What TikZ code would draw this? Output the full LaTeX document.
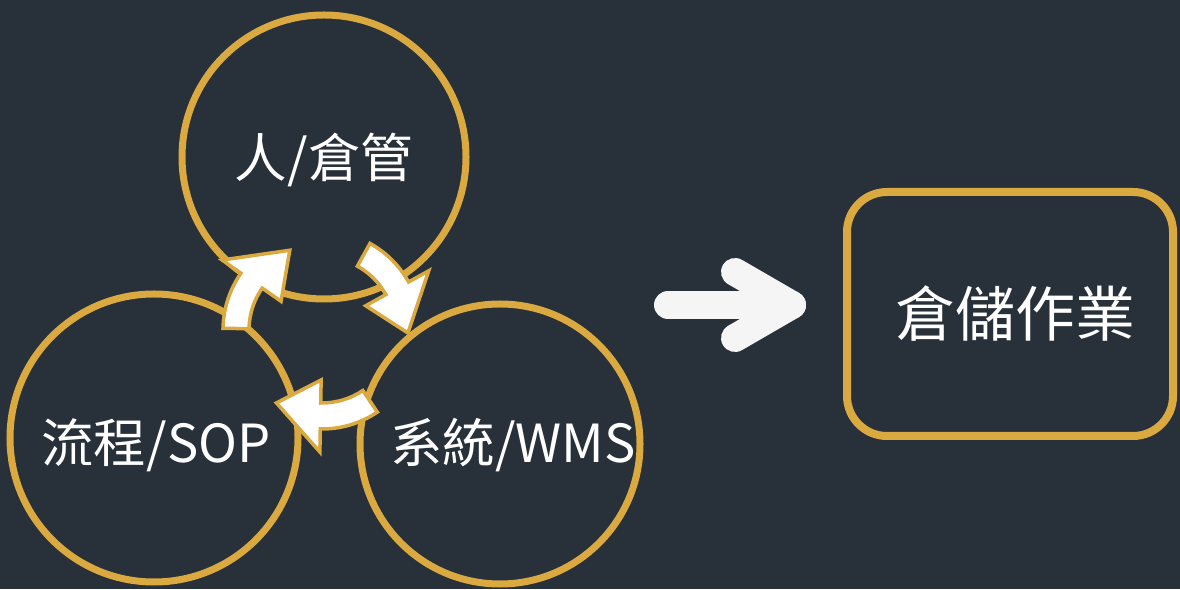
\documentclass[tikz,border=0pt]{standalone}
\usepackage{fontspec}
\setmainfont{Noto Sans CJK TC}
\usetikzlibrary{calc}
\definecolor{bg}{HTML}{283039}
\definecolor{gold}{HTML}{DAA940}
\definecolor{offwhite}{HTML}{F5F5F5}
\tikzset{
  ring/.style={circle, draw=gold, line width=7pt, inner sep=0pt},
  lbl/.style={text=white, font=\fontsize{52.5}{60}\selectfont, inner sep=0pt},
  opsbox/.style={draw=gold, line width=8pt, rounded corners=40pt, minimum width=326pt, minimum height=244pt, text=white, font=\fontsize{60}{68}\selectfont},
  bigarrow/.style={draw=offwhite, line width=28pt, line cap=round, line join=round},
  cyc/.style={fill=white, draw=gold, line width=3.5pt, line join=miter}
}
\newcommand\cycarrow[3]{%
  \filldraw[cyc] (#1:99) arc[start angle=#1, end angle=#2, radius=99]
    -- (#2:122) -- (#3:86) -- (#2:50) -- (#2:73)
    arc[start angle=#2, end angle=#1, radius=73] -- cycle;}
\begin{document}
\begin{tikzpicture}[x=1pt,y=1pt]
\fill[bg] (0,0) rectangle (1180,589);
\useasboundingbox (0,0) rectangle (1180,589);
% circles
\node[ring, minimum size=284pt] (people) at (324,432) {};
\node[ring, minimum size=288pt] (sop) at (154,151) {};
\node[ring, minimum size=280pt] (wms) at (500,145) {};
\node[lbl] (peopleT) at (324,429) {人/倉管};
\node[lbl] (sopT) at (156,144) {流程/SOP};
\node[lbl] (wmsT) at (513,144) {系統/WMS};
% cycle arrows
\begin{scope}[shift={(322,259)}]
\coordinate (C) at (0,0);
\cycarrow{179}{145}{112}
\cycarrow{61}{29}{-2}
\cycarrow{304}{269}{238}
\end{scope}
% box
\node[opsbox] (ops) at (1010,275) {\hspace*{10pt}倉儲作業};
% big arrow
\coordinate (a1) at (668,284);
\coordinate (a2) at (792,284);
\coordinate (h1) at (735,317);
\coordinate (h2) at (735,251);
\draw[bigarrow] (a1) -- (a2);
\draw[bigarrow] (h1) -- (a2) -- (h2);
\end{tikzpicture}
\end{document}
